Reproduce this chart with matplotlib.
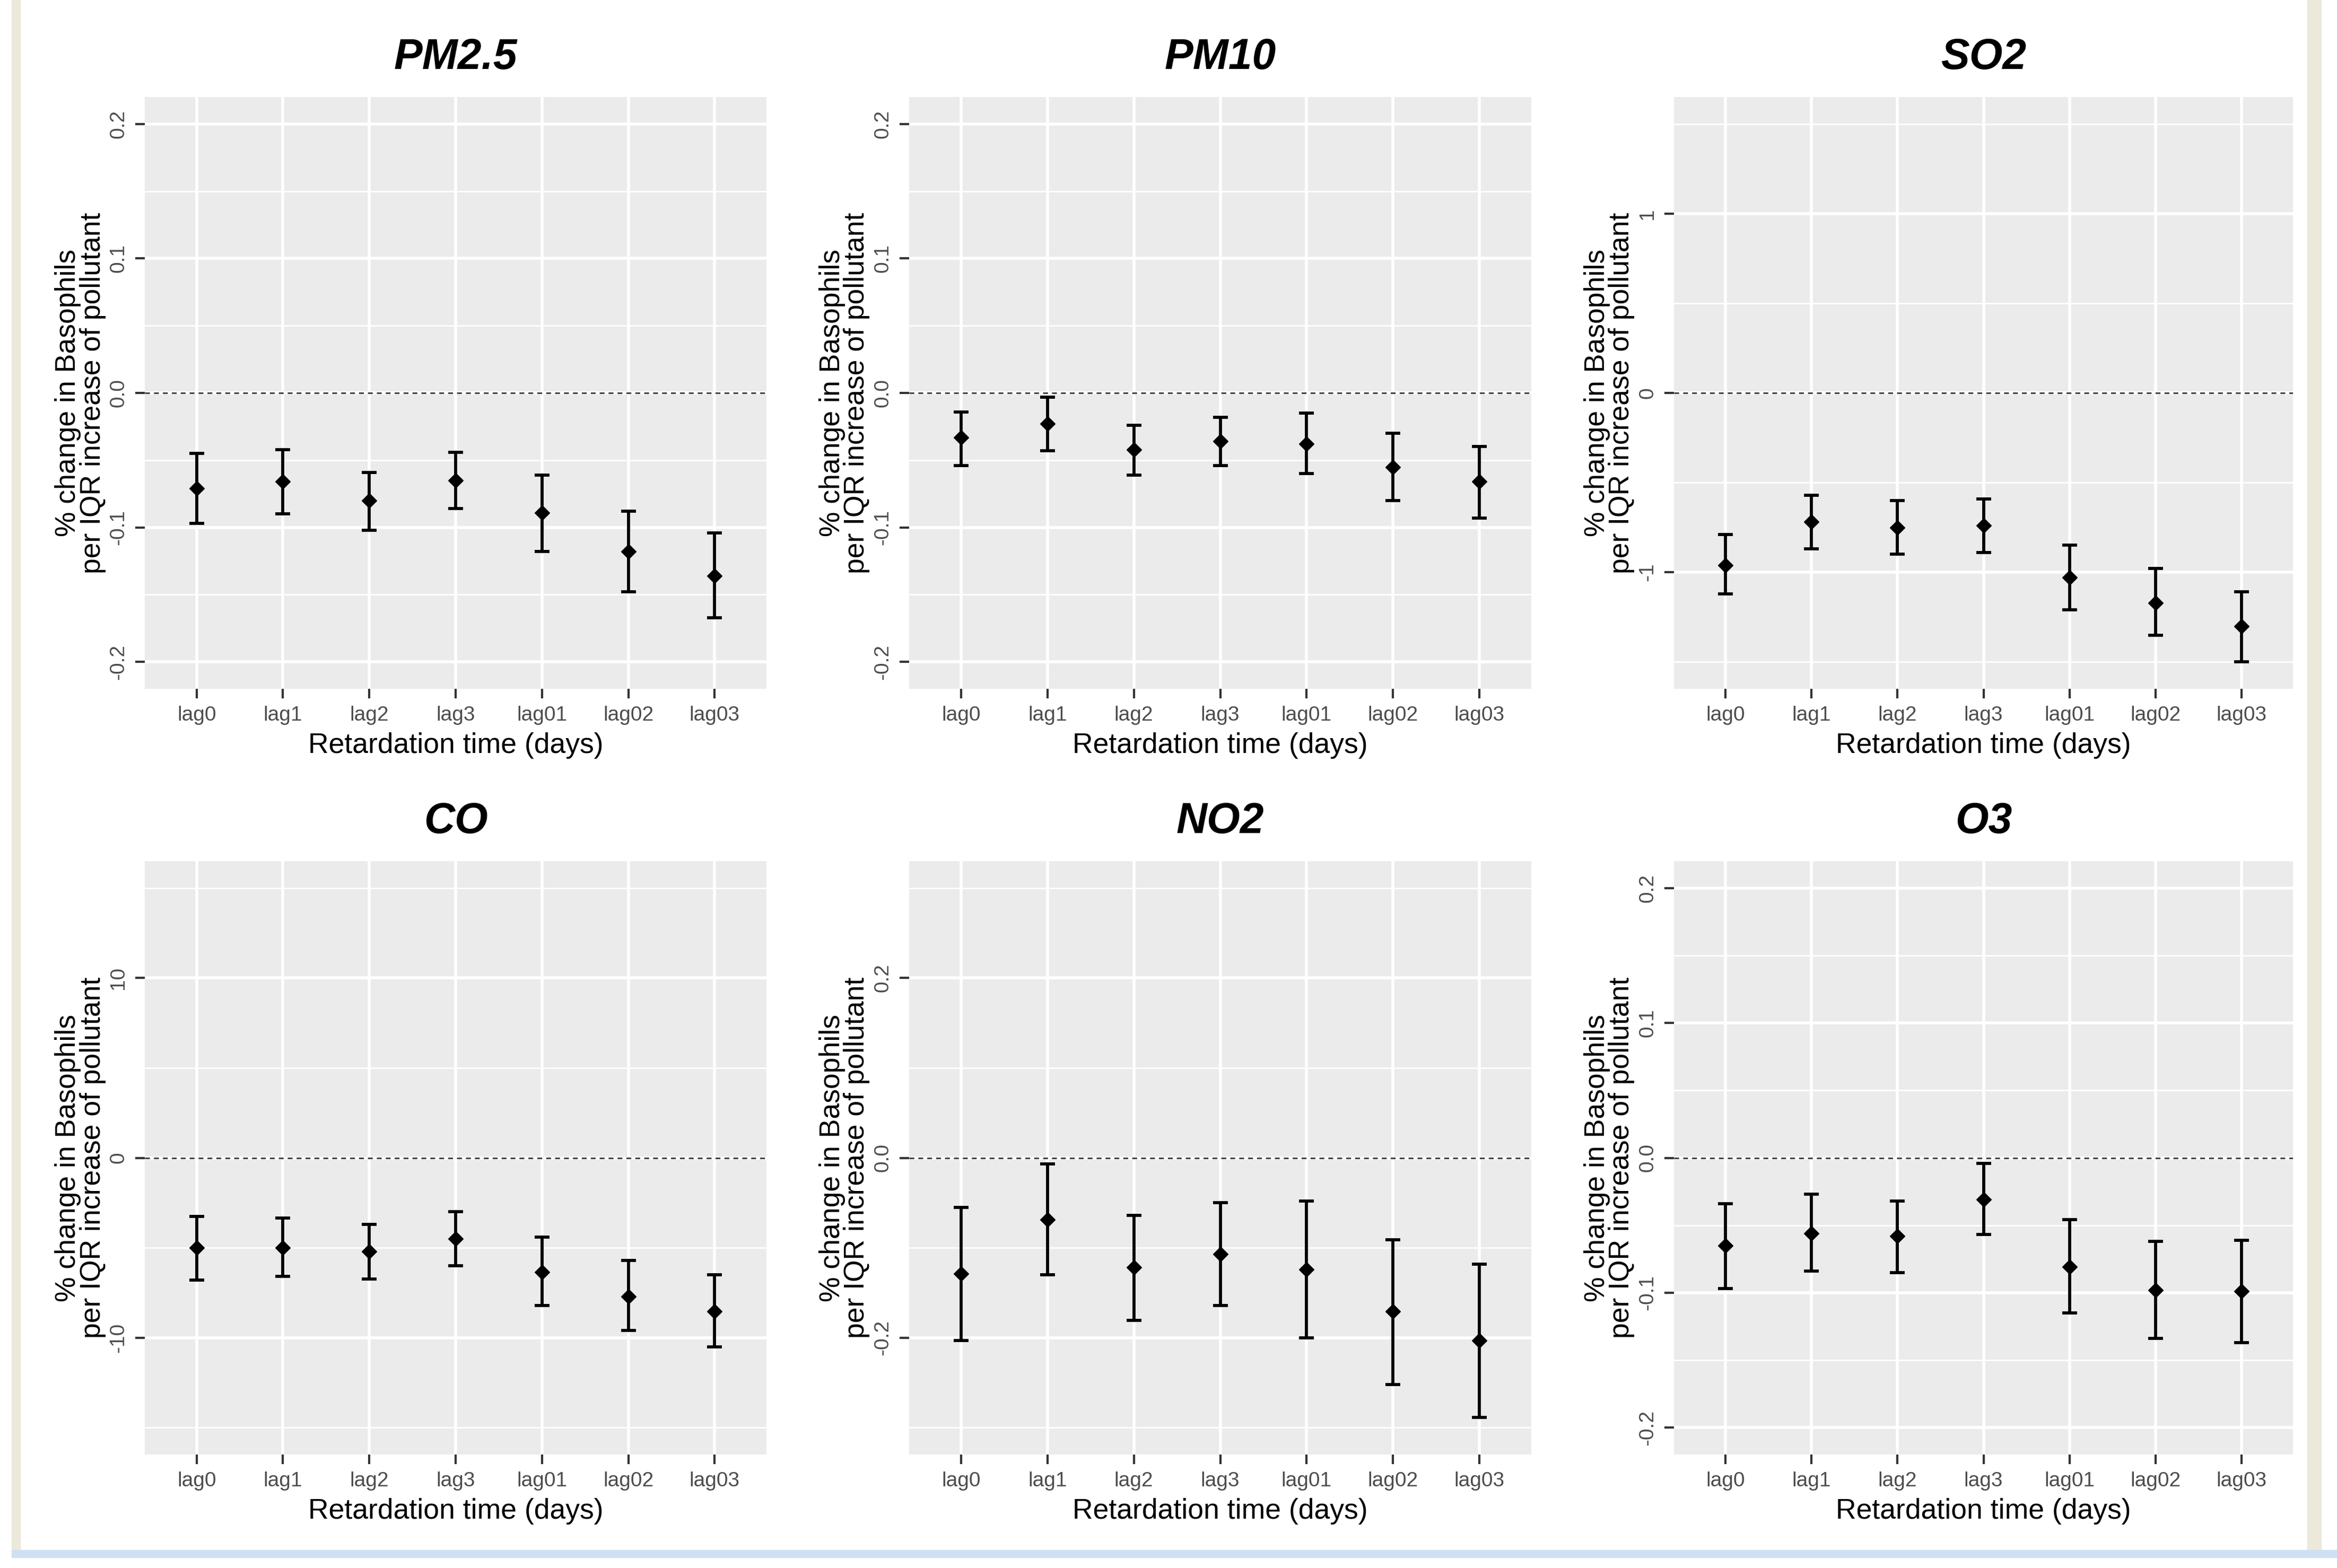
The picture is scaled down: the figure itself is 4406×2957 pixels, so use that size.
import numpy as np
import matplotlib
matplotlib.use("Agg")
import matplotlib.pyplot as plt
from matplotlib.patches import Rectangle

plt.rcParams['font.family'] = ['Liberation Sans', 'DejaVu Sans']

lags = ['lag0', 'lag1', 'lag2', 'lag3', 'lag01', 'lag02', 'lag03']

# estimates and 95% CI per pollutant
pm25_est = [-0.071, -0.066, -0.080, -0.065, -0.089, -0.118, -0.136]
pm25_lo = [-0.097, -0.090, -0.102, -0.086, -0.118, -0.148, -0.167]
pm25_hi = [-0.045, -0.042, -0.059, -0.044, -0.061, -0.088, -0.104]

pm10_est = [-0.033, -0.023, -0.042, -0.036, -0.038, -0.055, -0.066]
pm10_lo = [-0.054, -0.043, -0.061, -0.054, -0.060, -0.080, -0.093]
pm10_hi = [-0.014, -0.003, -0.024, -0.018, -0.015, -0.030, -0.040]

so2_est = [-0.96, -0.72, -0.75, -0.74, -1.03, -1.17, -1.30]
so2_lo = [-1.12, -0.87, -0.90, -0.89, -1.21, -1.35, -1.50]
so2_hi = [-0.79, -0.57, -0.60, -0.59, -0.85, -0.98, -1.11]

co_est = [-5.0, -5.0, -5.2, -4.5, -6.35, -7.7, -8.55]
co_lo = [-6.8, -6.6, -6.75, -6.0, -8.2, -9.6, -10.5]
co_hi = [-3.25, -3.35, -3.7, -3.0, -4.4, -5.7, -6.5]

no2_est = [-0.129, -0.069, -0.122, -0.107, -0.124, -0.171, -0.203]
no2_lo = [-0.203, -0.130, -0.181, -0.164, -0.200, -0.252, -0.289]
no2_hi = [-0.055, -0.007, -0.064, -0.050, -0.048, -0.091, -0.118]

o3_est = [-0.065, -0.056, -0.058, -0.031, -0.081, -0.098, -0.099]
o3_lo = [-0.097, -0.084, -0.085, -0.057, -0.115, -0.134, -0.137]
o3_hi = [-0.034, -0.027, -0.032, -0.004, -0.046, -0.062, -0.061]

titles = ['PM2.5', 'PM10', 'SO2', 'CO', 'NO2', 'O3']
estimates = [pm25_est, pm10_est, so2_est, co_est, no2_est, o3_est]
lowers = [pm25_lo, pm10_lo, so2_lo, co_lo, no2_lo, o3_lo]
uppers = [pm25_hi, pm10_hi, so2_hi, co_hi, no2_hi, o3_hi]

ylims = [0.22, 0.22, 1.65, 16.5, 0.33, 0.22]
major_ticks = [
    [-0.2, -0.1, 0.0, 0.1, 0.2],
    [-0.2, -0.1, 0.0, 0.1, 0.2],
    [-1, 0, 1],
    [-10, 0, 10],
    [-0.2, 0.0, 0.2],
    [-0.2, -0.1, 0.0, 0.1, 0.2],
]
tick_labels = [
    ['-0.2', '-0.1', '0.0', '0.1', '0.2'],
    ['-0.2', '-0.1', '0.0', '0.1', '0.2'],
    ['-1', '0', '1'],
    ['-10', '0', '10'],
    ['-0.2', '0.0', '0.2'],
    ['-0.2', '-0.1', '0.0', '0.1', '0.2'],
]
minor_ticks = [
    [-0.15, -0.05, 0.05, 0.15],
    [-0.15, -0.05, 0.05, 0.15],
    [-1.5, -0.5, 0.5, 1.5],
    [-15, -5, 5, 15],
    [-0.3, -0.1, 0.1, 0.3],
    [-0.15, -0.05, 0.05, 0.15],
]

W, H = 4406, 2957
fig = plt.figure(figsize=(W / 100, H / 100), dpi=100)
fig.patch.set_facecolor('white')

# page decorations (beige side strips, blue rule at bottom)
fig.add_artist(Rectangle((22 / W, 1 - 2925 / H), 16 / W, 2925 / H,
                         transform=fig.transFigure, color='#ECE8DA', zorder=0))
fig.add_artist(Rectangle((4350 / W, 1 - 2925 / H), 26 / W, 2925 / H,
                         transform=fig.transFigure, color='#ECE8DA', zorder=0))
fig.add_artist(Rectangle((22 / W, 1 - 2937 / H), (W - 22) / W, 14 / H,
                         transform=fig.transFigure, color='#CFE0F2', zorder=0))

lefts = [273, 1714, 3156]
widths = [1172, 1173, 1167]
tops = [183, 1624]
heights = [1116, 1119]

x = np.arange(len(lags))
for i, name in enumerate(titles):
    row, col = divmod(i, 3)
    ax = fig.add_axes([lefts[col] / W, 1 - (tops[row] + heights[row]) / H,
                       widths[col] / W, heights[row] / H])
    ax.set_facecolor('#EBEBEB')
    for s in ax.spines.values():
        s.set_visible(False)

    est = np.array(estimates[i])
    lo = np.array(lowers[i])
    hi = np.array(uppers[i])

    ax.axhline(0, color='#444444', lw=2.2, ls=(0, (3, 2.5)), zorder=2)
    ax.errorbar(x, est, yerr=[est - lo, hi - est], fmt='D', color='black',
                ms=14, elinewidth=4.2, capsize=10, capthick=4.2, zorder=3)

    ax.set_xlim(-0.6, 6.6)
    ax.set_ylim(-ylims[i], ylims[i])
    ax.set_xticks(x)
    ax.set_xticklabels(lags)
    ax.set_yticks(major_ticks[i])
    ax.set_yticklabels(tick_labels[i], rotation=90, va='center')
    ax.set_yticks(minor_ticks[i], minor=True)

    ax.grid(True, which='major', color='white', lw=4, zorder=1)
    ax.grid(True, which='minor', axis='y', color='white', lw=2, zorder=1)
    ax.set_axisbelow(True)

    ax.tick_params(which='major', length=13, width=3, color='#333333',
                   labelsize=28, labelcolor='#4D4D4D', pad=10)
    ax.tick_params(which='minor', length=0)

    ax.set_title(name, fontsize=58, fontweight='bold', fontstyle='italic', pad=38)
    ax.set_xlabel('Retardation time (days)', fontsize=38.5, labelpad=10)
    ax.set_ylabel('% change in Basophils\nper IQR increase of pollutant',
                  fontsize=38.5, labelpad=4, linespacing=0.92)

fig.savefig('out.png', dpi=100, facecolor='white')
